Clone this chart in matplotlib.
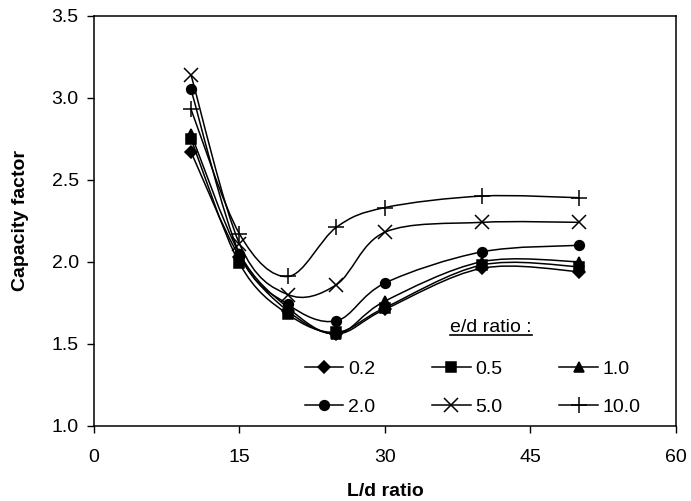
import numpy as np
import matplotlib
matplotlib.use("Agg")
import matplotlib.pyplot as plt
from matplotlib.path import Path
from matplotlib.patches import PathPatch
from matplotlib.lines import Line2D

plt.rcParams['font.family'] = ['Liberation Sans', 'DejaVu Sans']
plt.rcParams['font.size'] = 14

# L/d ratio values
ld_ratio = [10, 15, 20, 25, 30, 40, 50]

# capacity factor for each e/d ratio
cf_02 = [2.67, 2.03, 1.70, 1.56, 1.71, 1.96, 1.94]
cf_05 = [2.75, 1.99, 1.68, 1.57, 1.72, 1.98, 1.97]
cf_10 = [2.78, 2.05, 1.72, 1.56, 1.76, 2.00, 2.00]
cf_20 = [3.05, 2.05, 1.74, 1.64, 1.87, 2.06, 2.10]
cf_50 = [3.14, 2.11, 1.80, 1.86, 2.18, 2.24, 2.24]
cf_100 = [2.93, 2.17, 1.91, 2.21, 2.33, 2.40, 2.39]

series = [cf_02, cf_05, cf_10, cf_20, cf_50, cf_100]
labels = ["0.2", "0.5", "1.0", "2.0", "5.0", "10.0"]
markers = ["D", "s", "^", "o", "x", "+"]
msizes = [6.5, 6.5, 7.5, 7, 10, 11]


def smooth_path(x, y):
    # excel style smoothed line (bezier through the points)
    pts = np.column_stack([x, y]).astype(float)
    n = len(pts)
    verts = [pts[0]]
    codes = [Path.MOVETO]
    for i in range(n - 1):
        p0 = pts[i - 1] if i > 0 else pts[i]
        p1 = pts[i]
        p2 = pts[i + 1]
        p3 = pts[i + 2] if i + 2 < n else pts[i + 1]
        c1 = p1 + (p2 - p0) / 6.0
        c2 = p2 - (p3 - p1) / 6.0
        verts += [c1, c2, p2]
        codes += [Path.CURVE4] * 3
    return Path(verts, codes)


fig = plt.figure(figsize=(6.91, 5.01), dpi=100)
ax = fig.add_axes([0.136, 0.150, 0.842, 0.819])

handles = []
for vals, lab, mk, ms in zip(series, labels, markers, msizes):
    ax.add_patch(PathPatch(smooth_path(ld_ratio, vals), fill=False,
                           edgecolor="black", lw=1.1))
    ax.plot(ld_ratio, vals, ls="none", marker=mk, ms=ms, color="black",
            mew=1.1)
    handles.append(Line2D([], [], color="black", lw=1.1, marker=mk, ms=ms,
                          mew=1.1, label=lab))

ax.set_xlim(0, 60)
ax.set_ylim(1.0, 3.5)
ax.set_xticks([0, 15, 30, 45, 60])
ax.set_yticks([1.0, 1.5, 2.0, 2.5, 3.0, 3.5])
ax.yaxis.set_major_formatter(matplotlib.ticker.FormatStrFormatter("%.1f"))
ax.tick_params(direction="out", length=5, width=1, pad=6)
ax.tick_params(axis="x", pad=12)
for sp in ax.spines.values():
    sp.set_linewidth(1.1)

ax.set_xlabel("L/d ratio", fontweight="bold", labelpad=12)
ax.set_ylabel("Capacity factor", fontweight="bold", labelpad=16)

# legend fills column by column, so order for rows 0.2 0.5 1.0 / 2.0 5.0 10.0
order = [0, 3, 1, 4, 2, 5]
leg = ax.legend(handles=[handles[i] for i in order], ncol=3, frameon=False,
                loc="lower left", bbox_to_anchor=(0.362, 0.025),
                handlelength=2.0, handletextpad=0.25, columnspacing=2.9,
                labelspacing=1.05, borderpad=0, borderaxespad=0, fontsize=14)

title = ax.text(0.612, 0.229, "e/d ratio :", transform=ax.transAxes,
                ha="left", va="baseline", fontsize=14)
fig.canvas.draw()
bb = title.get_window_extent().transformed(ax.transAxes.inverted())
ax.plot([bb.x0, bb.x1], [0.222, 0.222], transform=ax.transAxes,
        color="black", lw=1.2, clip_on=False)

fig.savefig("out.png", dpi=100)
